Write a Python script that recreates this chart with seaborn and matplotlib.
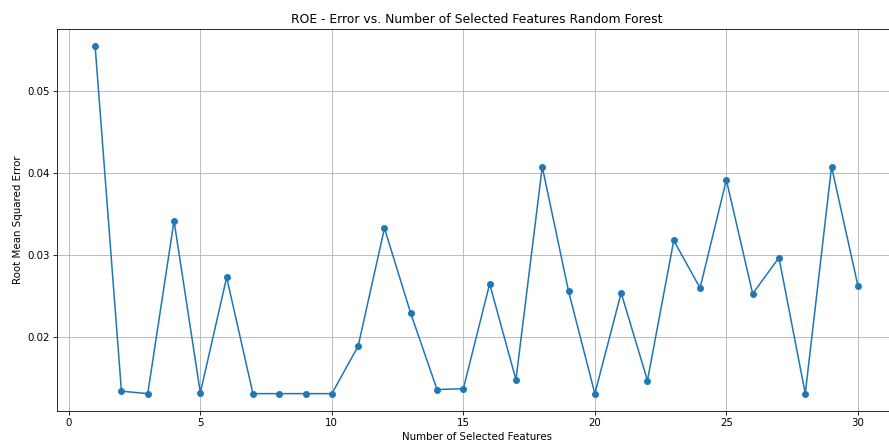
import matplotlib
matplotlib.use("Agg")
import matplotlib.pyplot as plt
import seaborn as sns
import pandas as pd

n_features = list(range(1, 31))
rmse = [0.0555, 0.0134, 0.0131, 0.0342, 0.0132, 0.0273, 0.0131, 0.0131, 0.0131, 0.0131,
        0.0189, 0.0333, 0.0229, 0.0136, 0.0137, 0.0265, 0.0148, 0.0408, 0.0256, 0.0131,
        0.0254, 0.0147, 0.0318, 0.0260, 0.0392, 0.0253, 0.0297, 0.0131, 0.0408, 0.0263]

df = pd.DataFrame({"features": n_features, "rmse": rmse})

plt.rcParams['font.family'] = ['DejaVu Sans']
fig = plt.figure(figsize=(889 / 74, 446 / 74), dpi=74)
ax = fig.add_axes([57 / 889, 1 - 411 / 446, 839 / 889, 382 / 446])

sns.lineplot(data=df, x="features", y="rmse", marker="o", color="#1f77b4",
             markeredgecolor="#1f77b4", markersize=6, linewidth=1.5, ax=ax)
ax.margins(x=0.05, y=0.05)
ax.set_xticks([0, 5, 10, 15, 20, 25, 30])
ax.set_yticks([0.02, 0.03, 0.04, 0.05])
ax.grid(True, color="#b0b0b0", linewidth=0.8)
ax.set_axisbelow(True)
ax.set_title("ROE - Error vs. Number of Selected Features Random Forest", fontsize=12)
ax.set_xlabel("Number of Selected Features", fontsize=10)
ax.set_ylabel("Root Mean Squared Error", fontsize=10)
ax.tick_params(labelsize=10)

fig.savefig("out.png", dpi=74)
